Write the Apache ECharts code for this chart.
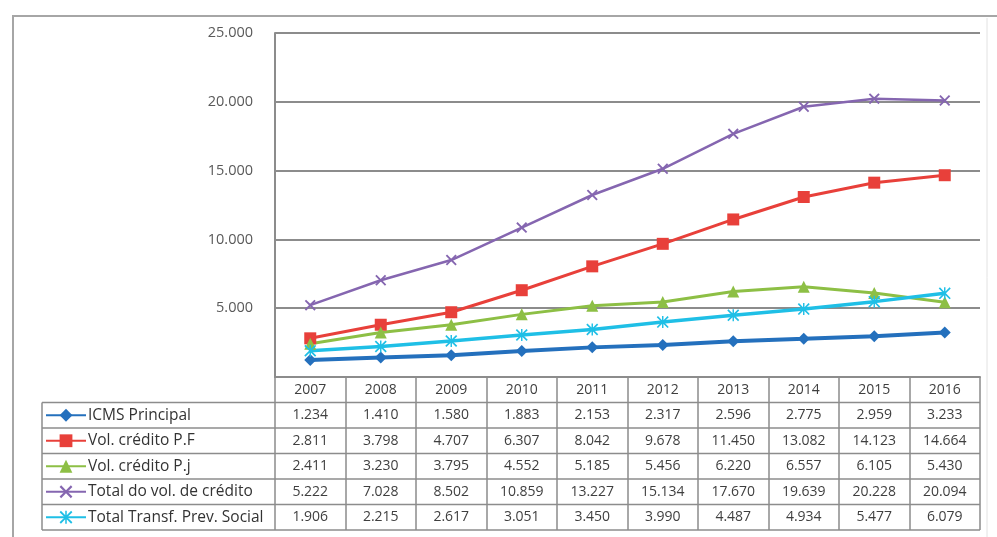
<!DOCTYPE html>
<html>
<head>
<meta charset="utf-8">
<script src="https://cdn.jsdelivr.net/npm/echarts@6/dist/echarts.min.js"></script>
<style>
  html, body { margin: 0; padding: 0; background: #ffffff; }
  #chart { width: 997px; height: 537px; }
</style>
</head>
<body>
<div id="chart"></div>
<script>
// Anos e valores anuais de cada série
const years = ['2007', '2008', '2009', '2010', '2011', '2012', '2013', '2014', '2015', '2016'];
const icmsPrincipal = [1234, 1410, 1580, 1883, 2153, 2317, 2596, 2775, 2959, 3233];
const volCreditoPF = [2811, 3798, 4707, 6307, 8042, 9678, 11450, 13082, 14123, 14664];
const volCreditoPJ = [2411, 3230, 3795, 4552, 5185, 5456, 6220, 6557, 6105, 5430];
const totalVolCredito = [5222, 7028, 8502, 10859, 13227, 15134, 17670, 19639, 20228, 20094];
const totalTransfPrev = [1906, 2215, 2617, 3051, 3450, 3990, 4487, 4934, 5477, 6079];
const yTicks = [0, 5000, 10000, 15000, 20000, 25000];

const seriesDefs = [
  { name: 'ICMS Principal', data: icmsPrincipal, color: '#2470bd', symbol: 'diamond', size: 12, width: 4 },
  { name: 'Vol. crédito P.F', data: volCreditoPF, color: '#e8403a', symbol: 'rect', size: 12, width: 3 },
  { name: 'Vol. crédito P.j', data: volCreditoPJ, color: '#8dbf45', symbol: 'triangle', size: 12, width: 3 },
  { name: 'Total do vol. de crédito', data: totalVolCredito, color: '#8566b0',
    symbol: 'path://M0,12L12,0L50,38L88,0L100,12L62,50L100,88L88,100L50,62L12,100L0,88L38,50Z', size: 11, width: 2.5 },
  { name: 'Total Transf. Prev. Social', data: totalTransfPrev, color: '#1fbfe6',
    symbol: 'path://M0,10L10,0L50,40L90,0L100,10L60,50L100,90L90,100L50,60L10,100L0,90L40,50Z M44,0L56,0L56,100L44,100Z', size: 12, width: 3.5 }
];

// Formato numérico brasileiro (ponto como separador de milhar)
function fmt(v) {
  return String(v).replace(/\B(?=(\d{3})+(?!\d))/g, '.');
}

// Geometria da área de plotagem e da tabela de dados
const plotLeft = 275, plotRight = 980, plotTop = 33, plotBottom = 377;
const rowH = 25.5;
const tableLeft = 42;
const tableBottom = plotBottom + rowH * (seriesDefs.length + 1);
const legendItemH = 16;

const chart = echarts.init(document.getElementById('chart'), null, { renderer: 'canvas' });

const textColor = '#3f3f3f';
const lineGray = '#8c8c8c';

// Eixo das categorias (cabeçalho de anos) + um eixo por linha de valores da tabela
const xAxes = [{
  type: 'category',
  data: years,
  gridIndex: 0,
  position: 'bottom',
  boundaryGap: true,
  axisLine: { show: true, lineStyle: { color: lineGray, width: 2 } },
  axisTick: { show: true, alignWithLabel: false, inside: false,
              length: tableBottom - plotBottom, lineStyle: { color: lineGray, width: 1.5 } },
  axisLabel: { margin: 6, color: textColor, fontSize: 14, fontFamily: 'Open Sans' },
  splitLine: { show: false }
}];
seriesDefs.forEach(function (s, k) {
  xAxes.push({
    type: 'category',
    data: years,
    gridIndex: 0,
    position: 'bottom',
    offset: rowH * (k + 1),
    boundaryGap: true,
    axisLine: { show: false },
    axisTick: { show: false },
    axisLabel: {
      margin: 6, color: textColor, fontSize: 14, fontFamily: 'Open Sans',
      formatter: function (value, idx) { return fmt(s.data[idx]); }
    },
    splitLine: { show: false }
  });
});

// Linhas horizontais e borda esquerda da tabela de dados
const tableGraphics = [];
for (let r = 1; r <= seriesDefs.length + 1; r++) {
  const y = plotBottom + rowH * r;
  tableGraphics.push({
    type: 'line', silent: true,
    shape: { x1: tableLeft, y1: y, x2: plotRight, y2: y },
    style: { stroke: lineGray, lineWidth: 1.5 }
  });
}
tableGraphics.push({
  type: 'line', silent: true,
  shape: { x1: tableLeft, y1: plotBottom + rowH, x2: tableLeft, y2: tableBottom },
  style: { stroke: lineGray, lineWidth: 1.5 }
});
// Moldura do gráfico
tableGraphics.push({
  type: 'rect', silent: true, z: -1,
  shape: { x: 13, y: 16, width: 1000, height: 560 },
  style: { fill: 'none', stroke: '#a6a6a6', lineWidth: 2 }
});
tableGraphics.push({
  type: 'line', silent: true, z: -1,
  shape: { x1: 987, y1: 18, x2: 987, y2: 537 },
  style: { stroke: '#e2e2e2', lineWidth: 1 }
});

const option = {
  backgroundColor: '#ffffff',
  animation: false,
  textStyle: { fontFamily: 'Open Sans' },
  grid: {
    left: plotLeft, right: 997 - plotRight, top: plotTop, bottom: 537 - plotBottom,
    containLabel: false
  },
  legend: {
    orient: 'vertical',
    padding: 0,
    left: tableLeft + 3,
    top: plotBottom + rowH + (rowH - legendItemH) / 2,
    itemWidth: 40,
    itemHeight: legendItemH,
    itemGap: rowH - legendItemH,
    textStyle: { color: '#333333', fontSize: 15.5, lineHeight: legendItemH, fontFamily: 'Open Sans', padding: [0, 0, 0, -3] },
    data: seriesDefs.map(function (s) { return s.name; })
  },
  xAxis: xAxes,
  yAxis: {
    type: 'value',
    min: 0,
    max: yTicks[yTicks.length - 1],
    interval: yTicks[1] - yTicks[0],
    axisLine: { show: true, lineStyle: { color: lineGray, width: 2 } },
    axisTick: { show: false },
    axisLabel: {
      margin: 22, color: '#595959', fontSize: 14.5, fontFamily: 'Open Sans',
      formatter: function (v) { return v === 0 ? '' : fmt(v); }
    },
    splitLine: { show: true, lineStyle: { color: lineGray, width: 2 } }
  },
  graphic: tableGraphics,
  series: seriesDefs.map(function (s) {
    return {
      name: s.name,
      type: 'line',
      xAxisIndex: 0,
      data: s.data,
      symbol: s.symbol,
      symbolSize: s.size,
      showAllSymbol: true,
      color: s.color,
      lineStyle: { color: s.color, width: s.width },
      itemStyle: { color: s.color, borderWidth: 0 },
      emphasis: { disabled: true }
    };
  })
};

chart.setOption(option);
</script>
</body>
</html>
